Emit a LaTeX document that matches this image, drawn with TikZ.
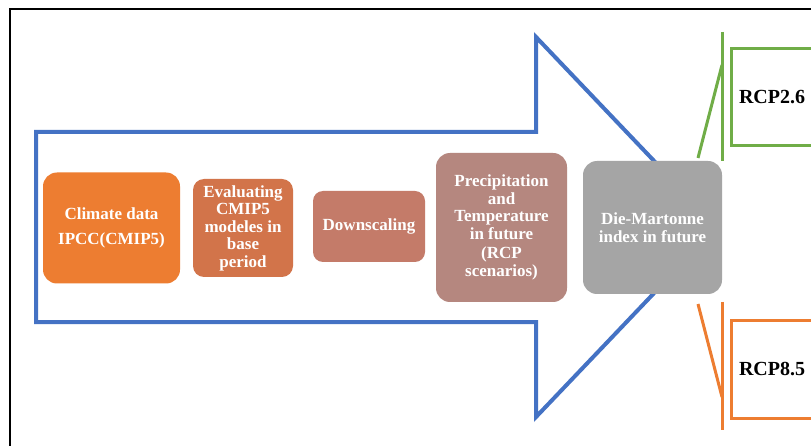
\documentclass[tikz,border=0pt]{standalone}
\usepackage{fontspec}
\setmainfont{Liberation Serif}
\begin{document}
\begin{tikzpicture}[x=1pt,y=-1pt,
  stepbox/.style={rounded corners=14pt, text=white, font=\bfseries\fontsize{17}{17.5}\selectfont, align=center, inner sep=1pt},
  rcpbox/.style={draw, line width=3pt, fill=white, font=\bfseries\fontsize{20}{22}\selectfont, text=black}]
\definecolor{arrowblue}{HTML}{4472C4}
\definecolor{c1}{HTML}{ED7D31}
\definecolor{c2}{HTML}{D2744A}
\definecolor{c3}{HTML}{C47B69}
\definecolor{c4}{HTML}{B5877F}
\definecolor{c5}{HTML}{A5A5A5}
\definecolor{rgreen}{HTML}{70AD47}
\definecolor{rorange}{HTML}{ED7D31}
\useasboundingbox (0,0) rectangle (811,446);
\clip (0,0) rectangle (811,446);
\fill[white] (0,0) rectangle (811,446);
% frame
\draw[line width=2pt] (10,460) -- (10,9) -- (830,9);
% big arrow
\draw[arrowblue, line width=4pt, line join=miter]
  (36,132) -- (536,132) -- (536,37) -- (717,227) -- (536,417) -- (536,322) -- (36,322) -- cycle;
% boxes
\node[stepbox, fill=c1, minimum width=137pt, minimum height=111pt] (b1) at (111.5,228)
  {Climate data\\[8pt]IPCC(CMIP5)};
\node[stepbox, fill=c2, rounded corners=11pt, minimum width=100pt, minimum height=98pt] (b2) at (243,228)
  {Evaluating\\CMIP5\\modeles in\\base\\period};
\node[stepbox, fill=c3, rounded corners=10pt, minimum width=112pt, minimum height=71pt] (b3) at (369,226.5)
  {Downscaling};
\node[stepbox, fill=c4, minimum width=131pt, minimum height=149pt] (b4) at (501.5,227.5)
  {Precipitation\\and\\Temperature\\in future\\[2pt](RCP\\scenarios)};
\node[stepbox, fill=c5, minimum width=139pt, minimum height=133pt] (b5) at (652.5,227.5)
  {Die-Martonne\\index in future};
% RCP boxes
\node[rcpbox, draw=rgreen, minimum width=100pt, minimum height=97pt, anchor=north west, text width=84pt, align=left, inner xsep=7pt] (g) at (729.5,47.5) {RCP2.6};
\node[rcpbox, draw=rorange, minimum width=100pt, minimum height=98pt, anchor=north west, text width=84pt, align=left, inner xsep=7pt] (o) at (729.5,318.5) {RCP8.5};
% brackets
\coordinate (gt) at (722,32);
\coordinate (gb) at (722,161);
\coordinate (gk) at (722,65);
\coordinate (gs) at (698,158);
\draw[rgreen, line width=3pt] (gt) -- (gb);
\draw[rgreen, line width=3pt] (gs) -- (gk);
\coordinate (ot) at (722,302);
\coordinate (ob) at (722,430);
\coordinate (ok) at (722,397);
\coordinate (os) at (698,304);
\draw[rorange, line width=3pt] (ot) -- (ob);
\draw[rorange, line width=3pt] (os) -- (ok);
\end{tikzpicture}
\end{document}
